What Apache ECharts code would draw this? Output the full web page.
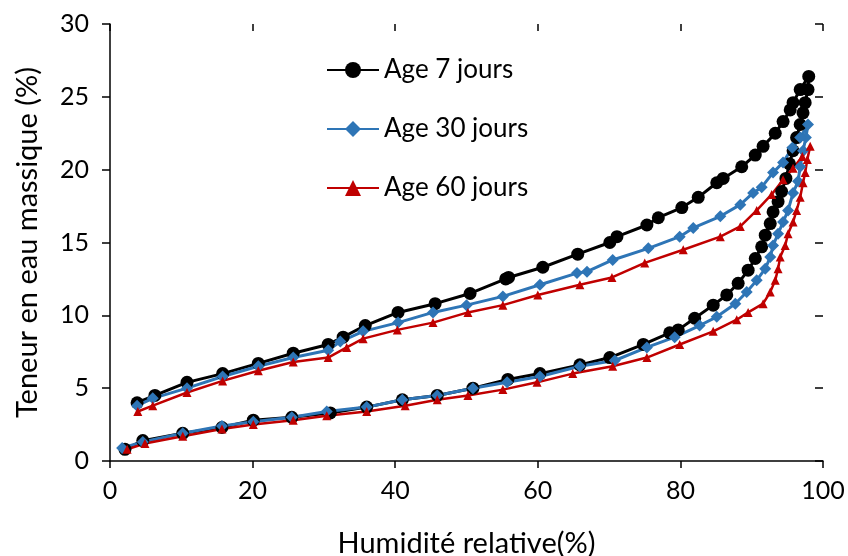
<!DOCTYPE html>
<html>
<head>
  <meta charset="utf-8">
  <script src="https://cdn.jsdelivr.net/npm/echarts@6/dist/echarts.min.js"></script>
</head>
<style>
  html, body { margin: 0; padding: 0; background: #fff; }
</style>
<body>
  <div id="main" style="width: 848px;height:556px;"></div>
  <script>
    // sorption puis desorption, [humidite, teneur]
    var age7 = [
      [2.1,0.8],[4.6,1.4],[10.2,1.9],[15.7,2.3],[20.1,2.8],[25.5,3.0],[30.9,3.3],[36,3.7],[41,4.2],[45.9,4.5],
      [50.9,5.0],[55.8,5.6],[60.3,6.0],[65.9,6.6],[70.1,7.1],[74.8,8.0],[78.5,8.8],[79.7,9.0],[82.0,9.8],[84.6,10.7],
      [86.5,11.4],[88.1,12.2],[89.5,13.1],[90.5,13.9],[91.4,14.7],[91.9,15.5],[92.6,16.3],[93.0,17.1],[93.7,17.8],[94.2,18.5],
      [94.8,19.4],[95.3,20.4],[95.8,21.3],[96.3,22.2],[96.8,23.1],[97.2,23.9],[97.5,24.6],[97.9,25.5],[98.0,26.4],
      [96.8,25.5],[95.8,24.6],[95.4,24.1],[94.4,23.3],[93.3,22.5],[91.6,21.6],[90.5,21.0],[88.6,20.2],[86.0,19.4],[85.1,19.1],
      [82.5,18.1],[80.2,17.4],[76.9,16.7],[75.3,16.2],[71.1,15.4],[70.1,15.0],[65.6,14.2],[60.7,13.3],[55.9,12.6],[55.5,12.5],
      [50.5,11.5],[45.6,10.8],[40.4,10.2],[35.8,9.3],[32.7,8.5],[30.6,8.0],[25.7,7.4],[20.8,6.7],[15.8,6.0],[10.8,5.4],
      [6.3,4.5],[3.8,4.0]
    ];
    var age30 = [
      [1.7,0.9],[4.6,1.3],[10.2,1.9],[15.7,2.4],[20.1,2.7],[25.5,3.0],[30.4,3.4],[36,3.7],[41,4.2],[45.9,4.5],
      [50.9,5.0],[55.7,5.4],[60.3,5.8],[65.9,6.5],[70.8,6.9],[75.3,7.8],[79.2,8.5],[82.7,9.3],[85.1,9.9],[87.7,10.8],
      [89.3,11.6],[90.7,12.4],[91.9,13.2],[92.6,14.0],[93.0,14.8],[93.7,15.6],[94.4,16.4],[95.1,17.2],[95.8,18.4],[96.5,19.2],
      [96.8,20.2],[97.2,21.3],[97.6,22.2],[97.9,23.1],
      [96.8,22.2],[95.7,21.5],[94.4,20.5],[93.0,19.8],[91.4,18.8],[90.2,18.4],[88.4,17.6],[85.6,16.8],[81.8,16.0],[79.9,15.4],
      [75.5,14.6],[70.5,13.8],[66.9,13.0],[65.5,12.9],[60.3,12.1],[55.1,11.3],[50,10.7],[45.3,10.2],[40.4,9.5],[35.5,8.9],
      [32.3,8.2],[30.6,7.6],[25.7,7.1],[20.8,6.5],[15.8,5.8],[10.8,5.0],[6.0,4.3],[3.8,3.8]
    ];
    var age60 = [
      [2.4,0.8],[4.9,1.2],[10.2,1.7],[15.7,2.2],[20.1,2.5],[25.7,2.8],[30.4,3.1],[36,3.4],[41.4,3.8],[45.9,4.2],
      [50.2,4.5],[55.1,4.9],[59.9,5.4],[64.9,6.0],[70.5,6.5],[75.3,7.1],[79.9,8.0],[84.6,8.9],[87.9,9.7],[89.5,10.2],
      [91.6,10.8],[92.6,11.6],[93.3,12.4],[93.7,13.2],[94.0,14.0],[94.7,14.8],[95.1,15.6],[95.8,16.4],[96.3,17.2],[96.8,18.1],
      [97.2,19.1],[97.5,19.8],[97.8,20.7],[98.2,21.6],
      [97.1,20.9],[95.8,20.1],[94.4,19.3],[92.8,18.3],[90.7,17.2],[88.4,16.1],[85.6,15.4],[80.4,14.5],[75.0,13.6],[70.4,12.6],
      [65.9,12.1],[60,11.4],[55.1,10.7],[50.2,10.2],[45.3,9.5],[40.3,9.0],[35.5,8.4],[33.2,7.8],[30.6,7.1],[25.7,6.8],
      [20.8,6.2],[15.8,5.5],[10.8,4.7],[6,3.8],[3.9,3.4]
    ];
    var seriesNames = ['Age 7 jours', 'Age 30 jours', 'Age 60 jours'];

    var FONT = 'Lato';
    var myChart = echarts.init(document.getElementById('main'));

    var axisX = function (inside, labels) {
      return {
        type: 'value', min: 0, max: 100, interval: 20,
        axisLine: { show: !inside, onZero: false, lineStyle: { color: '#000', width: 1.5 } },
        axisTick: { show: true, inside: inside, length: 7, lineStyle: { color: '#000', width: 1.5 } },
        axisLabel: { show: labels, color: '#000', fontSize: 25, fontFamily: FONT, margin: 17 },
        splitLine: { show: false },
        name: labels ? 'Humidité relative(%)' : '',
        nameLocation: 'middle', nameGap: 68,
        nameTextStyle: { color: '#000', fontSize: 29, fontFamily: FONT }
      };
    };
    var axisY = function (inside, labels) {
      return {
        type: 'value', min: 0, max: 30, interval: 5,
        axisLine: { show: !inside, onZero: false, lineStyle: { color: '#000', width: 1.5 } },
        axisTick: { show: true, inside: inside, length: 8, lineStyle: { color: '#000', width: 1.5 } },
        axisLabel: { show: labels, color: '#000', fontSize: 25, fontFamily: FONT, margin: 21 },
        splitLine: { show: false },
        name: labels ? 'Teneur en eau massique (%)' : '',
        nameLocation: 'middle', nameGap: 68,
        nameTextStyle: { color: '#000', fontSize: 29, fontFamily: FONT }
      };
    };

    var option = {
      animation: false,
      grid: { left: 110, right: 25, top: 24, bottom: 95, outerBoundsMode: 'none' },
      xAxis: [axisX(false, true), axisX(true, false)],
      yAxis: [axisY(false, true), axisY(true, false)],
      legend: {
        orient: 'vertical', left: 321, top: 52,
        itemWidth: 52, itemHeight: 20, itemGap: 33,
        textStyle: { color: '#000', fontSize: 26, fontFamily: FONT },
        data: seriesNames
      },
      series: [
        {
          name: seriesNames[0], type: 'line', data: age7,
          symbol: 'circle', symbolSize: 13,
          lineStyle: { color: '#000', width: 3 }, itemStyle: { color: '#000' }
        },
        {
          name: seriesNames[1], type: 'line', data: age30,
          symbol: 'diamond', symbolSize: 12,
          lineStyle: { color: '#2E75B6', width: 3 }, itemStyle: { color: '#2E75B6' }
        },
        {
          name: seriesNames[2], type: 'line', data: age60,
          symbol: 'triangle', symbolSize: 9,
          lineStyle: { color: '#C00000', width: 2.5 }, itemStyle: { color: '#C00000' }
        }
      ]
    };
    myChart.setOption(option);
  </script>
</body>
</html>
